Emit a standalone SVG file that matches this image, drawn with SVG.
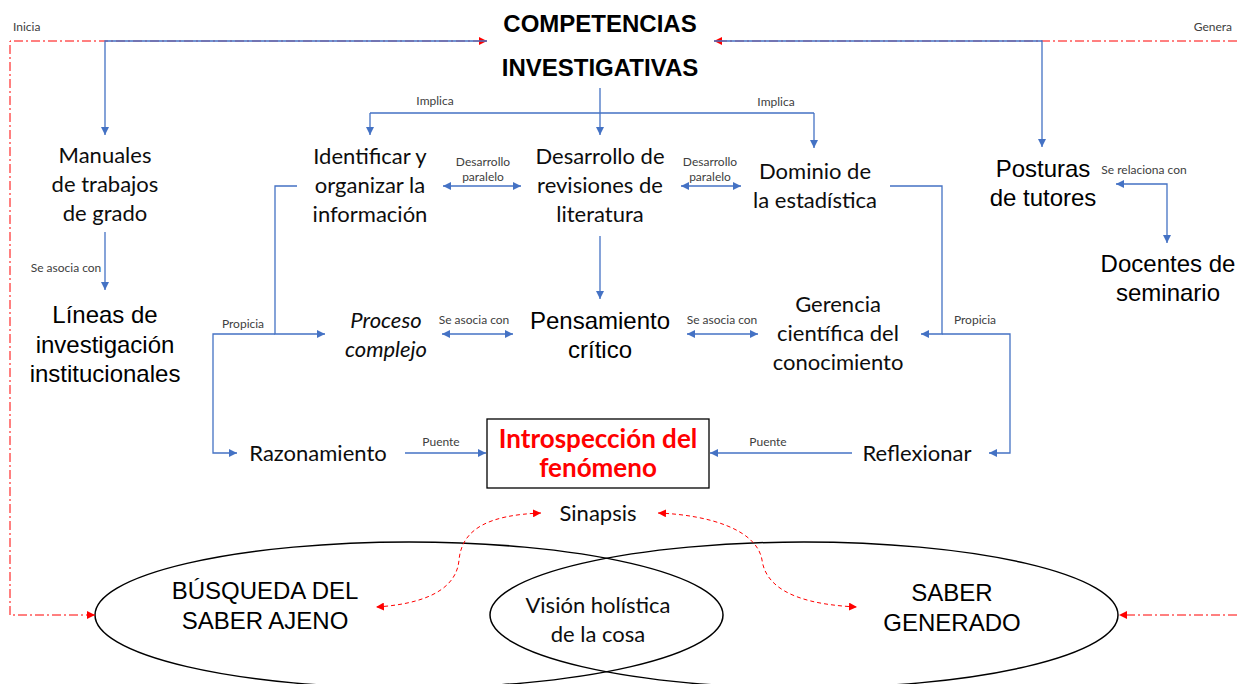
<svg xmlns="http://www.w3.org/2000/svg" width="1237" height="684" viewBox="0 0 1237 684">
<defs>
<marker id="ab" viewBox="0 0 8 8" refX="8" refY="4" markerWidth="8" markerHeight="8" markerUnits="userSpaceOnUse" orient="auto-start-reverse"><path d="M0,0 L8,4 L0,8 z" fill="#4472C4"/></marker>
<marker id="ar" viewBox="0 0 8 8" refX="8" refY="4" markerWidth="8" markerHeight="8" markerUnits="userSpaceOnUse" orient="auto-start-reverse"><path d="M0,0 L8,4 L0,8 z" fill="#FF0000"/></marker>
<style>
.bl{fill:none;stroke:#4472C4;stroke-width:1.3}
.rd{fill:none;stroke:#FF0000;stroke-width:1;stroke-dasharray:9 3 2 3}
.rc{fill:none;stroke:#FF0000;stroke-width:1;stroke-dasharray:4 3}
.el{fill:none;stroke:#000;stroke-width:1.5}
.ar{font-family:"Liberation Sans",Arial,sans-serif;font-size:24px;fill:#000;text-anchor:middle}
.ca{font-family:Lato,"Open Sans",sans-serif;font-size:22px;fill:#0d0d0d;text-anchor:middle}
.lb{font-family:Lato,"Open Sans",sans-serif;font-size:12px;fill:#404040;text-anchor:middle}
.tt{font-family:"Liberation Sans",Arial,sans-serif;font-size:24px;font-weight:bold;fill:#000;text-anchor:middle}
.rb{font-family:Lato,"Open Sans",sans-serif;font-size:26px;font-weight:bold;fill:#FF0000;text-anchor:middle}
</style>
</defs>
<rect width="1237" height="684" fill="#fff"/>
<g id="ellipses">
<ellipse id="n-busqueda-shape" class="el" cx="409" cy="615" rx="314" ry="73"/>
<ellipse id="n-saber-shape" class="el" cx="804" cy="615" rx="314" ry="73"/>
</g>
<g id="connectors">
<path class="rd" d="M95,615 H10 V41 H487" marker-start="url(#ar)" marker-end="url(#ar)"/>
<path class="rd" d="M1237,41 H714" marker-end="url(#ar)"/>
<path class="rd" d="M1237,615 H1119" marker-end="url(#ar)"/>
<path class="rc" d="M541,513 C490,515 462,528 459,560 C456,596 410,605 376,607" marker-start="url(#ar)" marker-end="url(#ar)"/>
<path class="rc" d="M658,513 C710,515 757,530 762,560 C767,596 815,605 857,607" marker-start="url(#ar)" marker-end="url(#ar)"/>
<path class="bl" d="M487,41 H105 V135" marker-end="url(#ab)"/>
<path class="bl" d="M714,41 H1042 V147" marker-end="url(#ab)"/>
<path class="bl" d="M600,88 V113 M370,113 H814"/>
<path class="bl" d="M370,113 V135" marker-end="url(#ab)"/>
<path class="bl" d="M600,113 V135" marker-end="url(#ab)"/>
<path class="bl" d="M814,113 V148" marker-end="url(#ab)"/>
<path class="bl" d="M105,232 V290" marker-end="url(#ab)"/>
<path class="bl" d="M443,186 H521" marker-start="url(#ab)" marker-end="url(#ab)"/>
<path class="bl" d="M681,186 H741" marker-start="url(#ab)" marker-end="url(#ab)"/>
<path class="bl" d="M442,334 H513" marker-start="url(#ab)" marker-end="url(#ab)"/>
<path class="bl" d="M687,334 H758" marker-start="url(#ab)" marker-end="url(#ab)"/>
<path class="bl" d="M600,236 V299" marker-end="url(#ab)"/>
<path class="bl" d="M297,186 H275 V334 H325" marker-end="url(#ab)"/>
<path class="bl" d="M275,334 H213 V453 H237" marker-end="url(#ab)"/>
<path class="bl" d="M890,186 H942 V334 H921" marker-end="url(#ab)"/>
<path class="bl" d="M942,334 H1010 V453 H989" marker-end="url(#ab)"/>
<path class="bl" d="M405,453 H486" marker-end="url(#ab)"/>
<path class="bl" d="M852,453 H710" marker-end="url(#ab)"/>
<path class="bl" d="M1116,184 H1167 V243" marker-start="url(#ab)" marker-end="url(#ab)"/>
</g>
<g id="labels">
<text class="lb" x="13" y="31" style="text-anchor:start">Inicia</text>
<text class="lb" x="1232" y="31" style="text-anchor:end">Genera</text>
<text class="lb" x="435" y="105">Implica</text>
<text class="lb" x="776" y="106">Implica</text>
<text class="lb" x="483" y="166">Desarrollo</text>
<text class="lb" x="483" y="181">paralelo</text>
<text class="lb" x="710" y="166">Desarrollo</text>
<text class="lb" x="710" y="181">paralelo</text>
<text class="lb" x="66" y="272">Se asocia con</text>
<text class="lb" x="474" y="324">Se asocia con</text>
<text class="lb" x="722" y="324">Se asocia con</text>
<text class="lb" x="1144" y="174">Se relaciona con</text>
<text class="lb" x="243" y="328">Propicia</text>
<text class="lb" x="975" y="324">Propicia</text>
<text class="lb" x="441" y="446">Puente</text>
<text class="lb" x="768" y="446">Puente</text>
</g>
<g id="n-competencias"><text class="tt" x="600" y="32">COMPETENCIAS</text><text class="tt" x="600" y="76">INVESTIGATIVAS</text></g>
<g id="n-manuales"><text class="ca" x="105" y="163">Manuales</text><text class="ca" x="105" y="192">de trabajos</text><text class="ca" x="105" y="221">de grado</text></g>
<g id="n-lineas"><text class="ar" x="105" y="323">Líneas de</text><text class="ar" x="105" y="353">investigación</text><text class="ar" x="105" y="382">institucionales</text></g>
<g id="n-identificar"><text class="ca" x="370" y="164">Identificar y</text><text class="ca" x="370" y="193">organizar la</text><text class="ca" x="370" y="222">información</text></g>
<g id="n-desarrollo"><text class="ca" x="600" y="164">Desarrollo de</text><text class="ca" x="600" y="193">revisiones de</text><text class="ca" x="600" y="222">literatura</text></g>
<g id="n-dominio"><text class="ca" x="815" y="179">Dominio de</text><text class="ca" x="815" y="208">la estadística</text></g>
<g id="n-posturas"><text class="ar" x="1043" y="177">Posturas</text><text class="ar" x="1043" y="206">de tutores</text></g>
<g id="n-docentes"><text class="ar" x="1168" y="272">Docentes de</text><text class="ar" x="1168" y="301">seminario</text></g>
<g id="n-proceso"><text class="ca" x="386" y="328" font-style="italic">Proceso</text><text class="ca" x="386" y="357" font-style="italic">complejo</text></g>
<g id="n-pensamiento"><text class="ar" x="600" y="329">Pensamiento</text><text class="ar" x="600" y="358">crítico</text></g>
<g id="n-gerencia"><text class="ca" x="838" y="312">Gerencia</text><text class="ca" x="838" y="341">científica del</text><text class="ca" x="838" y="370">conocimiento</text></g>
<g id="n-razonamiento"><text class="ca" x="318" y="461">Razonamiento</text></g>
<g id="n-reflexionar"><text class="ca" x="917" y="461">Reflexionar</text></g>
<g id="n-introspeccion"><rect x="487" y="419" width="222" height="69" fill="#fff" stroke="#000" stroke-width="1.3"/><text class="rb" x="598" y="448">Introspección del</text><text class="rb" x="598" y="477">fenómeno</text></g>
<g id="n-sinapsis"><text class="ca" x="598" y="521">Sinapsis</text></g>
<g id="n-busqueda"><text class="ar" x="265" y="599">BÚSQUEDA DEL</text><text class="ar" x="265" y="629">SABER AJENO</text></g>
<g id="n-saber"><text class="ar" x="952" y="601">SABER</text><text class="ar" x="952" y="631">GENERADO</text></g>
<g id="n-vision"><text class="ca" x="598" y="613">Visión holística</text><text class="ca" x="598" y="642">de la cosa</text></g>
</svg>
